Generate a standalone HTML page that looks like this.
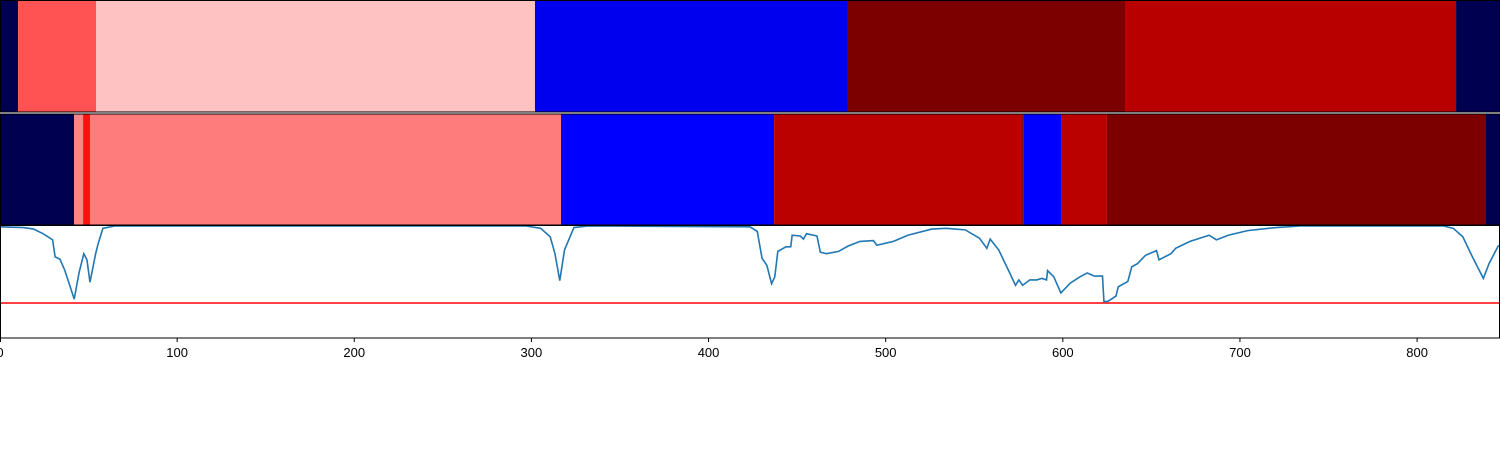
<!DOCTYPE html>
<html><head><meta charset="utf-8"><style>
body{margin:0;width:1500px;height:450px;background:#fff;overflow:hidden;font-family:"Liberation Sans",sans-serif}
</style></head><body>
<svg width="1500" height="450">
<g id="bands1"></g>
<g id="bands2"></g>
<g id="plot"></g>
<g id="axis"></g>
</svg>
<script>
const band1Edges=[0,10.2,54.2,302,478.7,635.1,822,847];
const band1Colors=["#000050","#ff5353","#ffc2c2","#0000ee","#7c0000","#b80000","#000050"];
const band2Edges=[0,41.8,46.9,50.8,316.7,437,577,578,599,624.9,838.9,847];
const band2Colors=["#000050","#ff8484","#ff1010","#ff7c7c","#0000ff","#bb0000","#700000","#0000ff","#bb0000","#7c0000","#000050"];
const xs=[0,13.5,18.9,24.3,29.7,31.1,33.8,36.5,41.9,44.6,47.3,49.1,50.8,54,55.4,58.1,64.8,297,305.2,310.6,313.3,316,318.7,324,332,423.4,427.5,430.2,432.9,435.6,437.4,439.1,443.7,446.4,447.2,451.8,453.6,455.3,461.2,463.1,466.6,473.4,478.8,485.5,493.1,495,504.4,512.5,526,534.1,544.9,553,557.1,559,563.8,569.2,573.3,575.2,577.3,581.4,585.4,588.1,590.8,591.4,594.9,598.9,604.3,609.7,613.8,617.8,622.4,623.2,625.4,630,631.3,636.7,638.9,642.1,646.7,652.9,654.3,661,663.7,671.8,682.6,686.7,693.4,704.3,720.5,734,815,820.4,825.8,831.2,837.4,840.6,846];
const ys=[0.99,0.98,0.96,0.90,0.82,0.60,0.57,0.43,0.05,0.39,0.64,0.56,0.27,0.64,0.77,0.97,1.0,1.0,0.97,0.86,0.64,0.29,0.69,0.98,1.0,0.99,0.93,0.58,0.49,0.25,0.34,0.67,0.73,0.73,0.88,0.87,0.83,0.90,0.87,0.66,0.64,0.67,0.74,0.80,0.81,0.75,0.80,0.88,0.96,0.97,0.95,0.84,0.71,0.83,0.69,0.43,0.23,0.30,0.23,0.30,0.30,0.32,0.30,0.42,0.34,0.13,0.26,0.34,0.39,0.35,0.35,0.02,0.02,0.09,0.21,0.28,0.47,0.51,0.62,0.68,0.56,0.64,0.71,0.80,0.88,0.82,0.88,0.94,0.98,1.0,1.0,0.97,0.86,0.60,0.32,0.51,0.75];
const threshold=[0];
const xTicks=[0,100,200,300,400,500,600,700,800];
const X0=0,XMAX=846.8,PW=1500;
const xs_=v=>v/XMAX*PW;
const Y_TOP=225,Y_BOT=338;
const yv=v=>303-v*77;
const NS="http://www.w3.org/2000/svg";
function mk(p,t,a){const e=document.createElementNS(NS,t);for(const k in a)e.setAttribute(k,a[k]);p.appendChild(e);return e;}
function bands(g,edges,colors,y0,y1){
 for(let i=0;i<colors.length;i++){
  const r=mk(g,'rect',{x:xs_(edges[i]),y:y0,width:Math.max(0,xs_(edges[i+1])-xs_(edges[i])),height:y1-y0,fill:colors[i]});
  
  
 }
 const b=mk(g,'rect',{x:0.5,y:y0+0.5,width:1499,height:y1-y0-1,fill:'none',stroke:'#000','stroke-width':1});
 
 
}
bands(document.getElementById('bands1'),band1Edges,band1Colors,0,112.5);
bands(document.getElementById('bands2'),band2Edges,band2Colors,113.5,225.5);
const plot=document.getElementById('plot');
const clip=mk(plot,'clipPath',{id:'c'});mk(clip,'rect',{x:0,y:Y_TOP,width:1500,height:Y_BOT-Y_TOP});
const th=mk(plot,'line',{x1:0,x2:1500,y1:yv(threshold[0]),y2:yv(threshold[0]),stroke:'#ff0000','stroke-width':1.5});


const pl=mk(plot,'polyline',{points:xs.map((x,i)=>xs_(x)+','+yv(ys[i])).join(' '),fill:'none',stroke:'#1f77b4','stroke-width':1.6,'clip-path':'url(#c)'});


const fr=mk(plot,'rect',{x:0.5,y:Y_TOP+0.5,width:1499,height:Y_BOT-Y_TOP-0.5,fill:'none',stroke:'#000','stroke-width':1});


const ax=document.getElementById('axis');
xTicks.forEach(t=>{
 const x=Math.max(0.5,xs_(t));
 const l=mk(ax,'line',{x1:x,x2:x,y1:Y_BOT,y2:Y_BOT+4,stroke:'#000','stroke-width':1});
 
 
 const tx=mk(ax,'text',{x:xs_(t),y:Y_BOT+19,'text-anchor':'middle','font-size':13,fill:'#000'});
 tx.textContent=t;
 
 
});
</script>
</body></html>
